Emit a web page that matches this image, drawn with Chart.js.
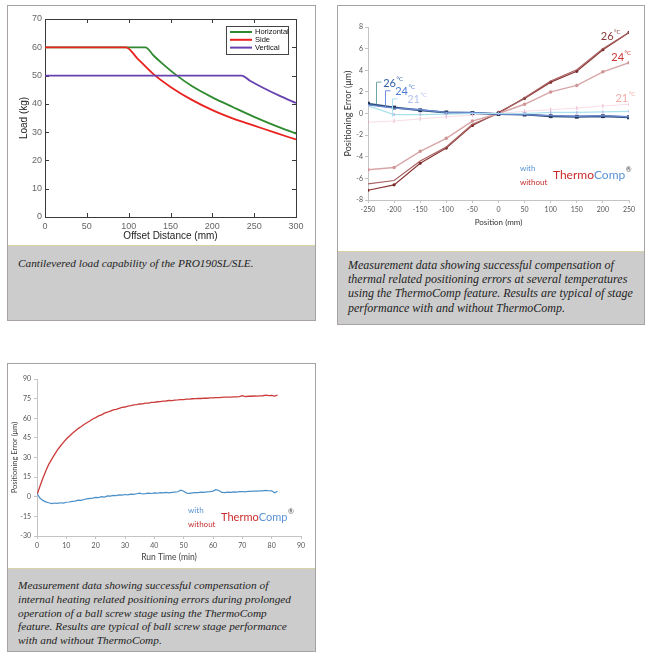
<!DOCTYPE html>
<html>
<head>
<meta charset="utf-8">
<script src="https://cdn.jsdelivr.net/npm/chart.js@4.4.1/dist/chart.umd.min.js"></script>
<style>
  body { margin: 0; background: #fff; width: 650px; height: 665px; position: relative; overflow: hidden; }
  .panel { position: absolute; border: 1px solid #a8a2a2; background: #fff; box-sizing: border-box; }
  .panel canvas { position: absolute; left: 0; top: 0; }
  .cap { position: absolute; left: 0; right: 0; bottom: 0; background: #cccccc; border-top: 1px solid #d8d2a4;
         font-family: "Liberation Serif", "DejaVu Serif", serif; font-style: italic; font-size: 12px;
         line-height: 14px; color: #1e1e1e; box-sizing: border-box; padding: 9px 0 0 10px; white-space: nowrap; }
</style>
</head>
<body>

<div class="panel" style="left:7px; top:5px; width:309px; height:316px;">
  <canvas id="loadChart" width="307" height="239"></canvas>
  <div class="cap" style="top:239px; font-size:11.3px; padding-top:10px;">Cantilevered load capability of the PRO190SL/SLE.</div>
</div>

<div class="panel" style="left:337px; top:5px; width:308px; height:320px;">
  <canvas id="positionChart" width="306" height="245"></canvas>
  <div class="cap" style="top:245px; font-size:12px; line-height:14.2px; padding-top:6px;">Measurement data showing successful compensation of<br>thermal related positioning errors at several temperatures<br>using the ThermoComp feature. Results are typical of stage<br>performance with and without ThermoComp.</div>
</div>

<div class="panel" style="left:7px; top:363px; width:309px; height:289px;">
  <canvas id="runTimeChart" width="307" height="204"></canvas>
  <div class="cap" style="top:204px; font-size:11.3px; line-height:13.8px; padding-top:10px;">Measurement data showing successful compensation of<br>internal heating related positioning errors during prolonged<br>operation of a ball screw stage using the ThermoComp<br>feature. Results are typical of ball screw stage performance<br>with and without ThermoComp.</div>
</div>

<script>
// ---------- chart 1 : cantilevered load ----------
const horizOffset = [0, 120, 130, 140, 155, 175, 200, 225, 250, 275, 300];
const horizLoad   = [60, 60, 57, 54.3, 50.6, 46.4, 42.3, 38.8, 35.4, 32.3, 29.5];
const sideOffset  = [0, 97, 110, 130, 150, 175, 200, 225, 250, 275, 300];
const sideLoad    = [60, 60, 56.2, 50.4, 46, 41.5, 37.8, 34.8, 32.3, 29.8, 27.4];
const vertOffset  = [0, 235, 245, 260, 280, 300];
const vertLoad    = [50, 50, 48.2, 45.8, 42.9, 40.3];

// ---------- chart 2 : positioning error vs position ----------
const positions   = [-250, -200, -150, -100, -50, 0, 50, 100, 150, 200, 250];
const without26a  = [-7.1, -6.6, -4.6, -3.2, -1.1, 0.1, 1.4, 2.9, 3.9, 5.9, 7.5];
const without26b  = [-6.5, -6.2, -4.4, -3.1, -1.0, 0.0, 1.45, 3.0, 4.05, 6.0, 7.5];
const without24   = [-5.2, -5.0, -3.5, -2.3, -0.7, 0.0, 0.85, 2.0, 2.6, 3.85, 4.7];
const without21   = [-0.8, -0.7, -0.5, -0.3, -0.15, 0.0, 0.2, 0.35, 0.5, 0.7, 0.85];
const with26      = [0.9, 0.55, 0.3, 0.1, 0.05, -0.05, -0.1, -0.25, -0.3, -0.25, -0.35];
const with24      = [0.8, 0.5, 0.35, 0.1, 0.1, -0.05, -0.1, -0.2, -0.25, -0.2, -0.3];
const with21      = [0.7, -0.1, -0.1, -0.05, 0.0, 0.0, 0.0, 0.1, 0.1, 0.15, 0.2];

// ---------- chart 3 : positioning error vs run time ----------
const runTime = [0, 1, 2, 3, 4, 5, 6, 7, 8, 9, 10, 11, 12, 13, 14, 15, 16, 17, 18, 19, 20,
  21, 22, 23, 24, 25, 26, 27, 28, 29, 30, 31, 32, 33, 34, 35, 36, 37, 38, 39, 40,
  41, 42, 43, 44, 45, 46, 47, 48, 49, 50, 51, 52, 53, 54, 55, 56, 57, 58, 59, 60,
  61, 62, 63, 64, 65, 66, 67, 68, 69, 70, 71, 72, 73, 74, 75, 76, 77, 78, 79, 80, 81, 82];
const errWithout = [1.5, 8.0, 14.2, 19.6, 24.8, 28.6, 32.4, 35.9, 38.8, 41.6, 44.1,
  46.3, 48.4, 50.2, 52.1, 53.5, 55.2, 56.6, 57.9, 59.4, 60.5,
  61.8, 62.6, 63.9, 64.6, 65.5, 66.4, 66.8, 67.6, 68.3, 68.6,
  69.3, 69.6, 70.2, 70.4, 70.9, 71.0, 71.5, 71.6, 72.1, 72.2,
  72.6, 72.7, 73.1, 73.2, 73.6, 73.5, 73.9, 74.0, 74.3, 74.3,
  74.6, 74.6, 74.9, 75.0, 75.1, 75.1, 75.4, 75.3, 75.6, 75.6,
  75.8, 75.8, 76.0, 76.1, 76.2, 76.1, 76.4, 76.3, 76.6, 77.2,
  76.5, 76.8, 76.8, 77.0, 76.9, 77.1, 77.2, 77.7, 77.3, 77.4, 76.9, 77.6];
const errWith = [2.5, -1.0, -2.8, -3.9, -4.6, -5.2, -4.8, -5.1, -4.6, -4.8, -4.2,
  -4.0, -3.5, -3.3, -2.6, -2.8, -2.1, -1.6, -1.3, -1.0, -0.5,
  -0.6, 0.1, -0.2, 0.6, 0.5, 1.1, 0.9, 1.4, 1.2, 1.7,
  1.5, 2.0, 1.8, 2.3, 2.7, 2.1, 2.4, 2.8, 2.5, 2.9,
  2.7, 3.1, 2.9, 3.3, 3.0, 3.4, 3.6, 3.8, 5.0, 4.2,
  2.8, 2.6, 3.0, 3.2, 3.1, 3.5, 3.3, 3.8, 3.9, 4.3,
  5.4, 4.8, 3.3, 3.2, 3.5, 3.4, 3.7, 3.6, 3.9, 4.0,
  3.8, 4.2, 4.1, 4.4, 4.3, 4.6, 4.5, 4.8, 4.6, 4.5, 3.0, 4.2];

const sansA = '"Liberation Sans", Arial, sans-serif';
const sansB = 'Lato, "Open Sans", sans-serif';

function pairs(xs, ys) {
    return xs.map((x, i) => ({ x: x, y: ys[i] }));
}

// text with a small raised "°C" after it
function drawTemp(ctx, num, px, py, color, size) {
    ctx.fillStyle = color;
    ctx.textBaseline = 'middle';
    ctx.textAlign = 'left';
    ctx.font = size + 'px ' + sansB;
    ctx.fillText(num, px, py);
    const w = ctx.measureText(num).width;
    ctx.font = Math.round(size * 0.55) + 'px ' + sansB;
    ctx.fillText('°C', px + w + 0.5, py - size * 0.42);
}

// "with / without ThermoComp®" key
function drawThermoKey(ctx, px, py, big) {
    ctx.textBaseline = 'middle';
    ctx.textAlign = 'left';
    ctx.font = '8px ' + sansB;
    ctx.fillStyle = '#5b93d6';
    ctx.fillText('with', px, py - 7);
    ctx.fillStyle = '#c42e2e';
    ctx.fillText('without', px, py + 7);
    const tx = px + 33;
    ctx.font = big + 'px ' + sansB;
    ctx.fillStyle = '#cc2a2a';
    ctx.fillText('Thermo', tx, py);
    const w1 = ctx.measureText('Thermo').width;
    ctx.fillStyle = '#5b93d6';
    ctx.fillText('Comp', tx + w1, py);
    const w2 = ctx.measureText('Comp').width;
    ctx.font = '7px ' + sansB;
    ctx.fillStyle = '#444';
    ctx.fillText('®', tx + w1 + w2 + 0.5, py - 5);
}

//--------------------
// - LOAD CHART -
//--------------------
const matlabFrame = {
    id: 'matlabFrame',
    beforeDatasetsDraw(chart) {
        const { ctx, chartArea: a, scales: { x, y } } = chart;
        ctx.save();
        ctx.strokeStyle = '#3a3a3a';
        ctx.lineWidth = 1;
        ctx.strokeRect(Math.round(a.left) + 0.5, Math.round(a.top) + 0.5, Math.round(a.width), Math.round(a.height));
        ctx.beginPath();
        x.ticks.forEach(t => {
            const px = Math.round(x.getPixelForValue(t.value)) + 0.5;
            ctx.moveTo(px, a.bottom); ctx.lineTo(px, a.bottom - 4);
            ctx.moveTo(px, a.top); ctx.lineTo(px, a.top + 4);
        });
        y.ticks.forEach(t => {
            const py = Math.round(y.getPixelForValue(t.value)) + 0.5;
            ctx.moveTo(a.left, py); ctx.lineTo(a.left + 4, py);
            ctx.moveTo(a.right, py); ctx.lineTo(a.right - 4, py);
        });
        ctx.stroke();
        ctx.restore();
    },
    afterDatasetsDraw(chart) {
        // boxed legend in the top right corner
        const { ctx, chartArea: a } = chart;
        const bx = a.right - 70, by = a.top + 7, bw = 62, bh = 28;
        ctx.save();
        ctx.fillStyle = '#fff';
        ctx.fillRect(bx, by, bw, bh);
        ctx.strokeStyle = '#444';
        ctx.lineWidth = 1;
        ctx.strokeRect(bx + 0.5, by + 0.5, bw, bh);
        ctx.font = '7.5px ' + sansA;
        ctx.textBaseline = 'middle';
        chart.data.datasets.forEach((ds, i) => {
            const ly = by + 6 + i * 7.8;
            ctx.strokeStyle = ds.borderColor;
            ctx.lineWidth = 2;
            ctx.beginPath();
            ctx.moveTo(bx + 4, ly); ctx.lineTo(bx + 26, ly);
            ctx.stroke();
            ctx.fillStyle = '#111';
            ctx.fillText(ds.label, bx + 29, ly);
        });
        ctx.restore();
    }
};

new Chart(document.getElementById('loadChart'), {
    type: 'line',
    data: {
        datasets: [
            { label: 'Horizontal', data: pairs(horizOffset, horizLoad), borderColor: '#2f8a2f', order: 3 },
            { label: 'Side', data: pairs(sideOffset, sideLoad), borderColor: '#e8231f', order: 2 },
            { label: 'Vertical', data: pairs(vertOffset, vertLoad), borderColor: '#6841b0', order: 1 }
        ]
    },
    options: {
        responsive: false,
        animation: false,
        layout: { padding: { top: 13, right: 19, left: 0, bottom: 0 } },
        elements: {
            line: { borderWidth: 1.8, cubicInterpolationMode: 'monotone', fill: false },
            point: { radius: 0 }
        },
        plugins: { legend: { display: false }, tooltip: { enabled: false } },
        scales: {
            x: {
                type: 'linear', min: 0, max: 300,
                afterFit: s => { s.height = 28; },
                grid: { display: false, drawTicks: false },
                border: { display: false },
                ticks: { stepSize: 50, padding: 4, maxRotation: 0, color: '#666', font: { family: sansA, size: 9 } },
                title: { display: true, text: 'Offset Distance (mm)', color: '#222', padding: { top: 0, bottom: 3 }, font: { family: sansA, size: 10 } }
            },
            y: {
                min: 0, max: 70,
                afterFit: s => { s.width = 37; },
                grid: { display: false, drawTicks: false },
                border: { display: false },
                ticks: { stepSize: 10, padding: 3, color: '#666', font: { family: sansA, size: 9 } },
                title: { display: true, text: 'Load (kg)', color: '#222', padding: { top: 10, bottom: 0 }, font: { family: sansA, size: 10 } }
            }
        }
    },
    plugins: [matlabFrame]
});

//--------------------
// - POSITION CHART -
//--------------------
const positionNotes = {
    id: 'positionNotes',
    afterDatasetsDraw(chart, args, opts) {
        const { ctx, scales: { x, y } } = chart;
        ctx.save();
        opts.brackets.forEach(b => {
            const px = Math.round(x.getPixelForValue(b.x)) + 0.5;
            const top = y.getPixelForValue(b.top);
            ctx.strokeStyle = b.color;
            ctx.lineWidth = 1;
            ctx.beginPath();
            ctx.moveTo(px + 5, top); ctx.lineTo(px, top); ctx.lineTo(px, y.getPixelForValue(b.bottom));
            ctx.stroke();
        });
        opts.temps.forEach(t => drawTemp(ctx, t.text, x.getPixelForValue(t.x), y.getPixelForValue(t.y), t.color, 11));
        drawThermoKey(ctx, x.getPixelForValue(opts.key.x), y.getPixelForValue(opts.key.y), 12);
        ctx.restore();
    }
};

const thinAxis = {
    grid: { display: true, drawOnChartArea: false, drawTicks: true, tickLength: 3, color: '#c4c4c4' },
    border: { display: true, color: '#c4c4c4' }
};

new Chart(document.getElementById('positionChart'), {
    type: 'line',
    data: {
        datasets: [
            { label: '21°C with', data: pairs(positions, with21), borderColor: '#a9e2ee', borderWidth: 1.2, pointRadius: 1.5, pointStyle: 'line', rotation: 90, pointBorderColor: '#b9b0e6' },
            { label: '24°C with', data: pairs(positions, with24), borderColor: '#6a88cf', borderWidth: 1.4, pointRadius: 0 },
            { label: '26°C with', data: pairs(positions, with26), borderColor: '#2c4d7c', borderWidth: 2, pointRadius: 1.3, pointStyle: 'rect', pointBackgroundColor: '#1f3556', pointBorderColor: '#1f3556' },
            { label: '21°C without', data: pairs(positions, without21), borderColor: 'rgba(240,180,200,0.45)', borderWidth: 1, pointRadius: 2, pointStyle: 'line', rotation: 90, pointBorderColor: 'rgba(225,170,195,0.8)' },
            { label: '24°C without', data: pairs(positions, without24), borderColor: '#d8a6a8', borderWidth: 1.5, pointRadius: 1, pointBackgroundColor: '#cf9496', pointBorderColor: '#cf9496' },
            { label: '26°C without', data: pairs(positions, without26b), borderColor: '#a86262', borderWidth: 1.2, pointRadius: 0 },
            { label: '26°C without', data: pairs(positions, without26a), borderColor: '#8a3434', borderWidth: 1.2, pointRadius: 1, pointBackgroundColor: '#7a2a2a', pointBorderColor: '#7a2a2a' }
        ]
    },
    options: {
        responsive: false,
        animation: false,
        layout: { padding: { top: 21, right: 15, left: 0, bottom: 0 } },
        plugins: {
            legend: { display: false },
            tooltip: { enabled: false },
            positionNotes: {
                brackets: [
                    { x: -235, top: 2.9, bottom: 0.85, color: '#6fa6a8' },
                    { x: -217, top: 2.1, bottom: 0.6, color: '#6f8ee0' },
                    { x: -204, top: 1.35, bottom: -0.3, color: '#a8e4f0' }
                ],
                temps: [
                    { text: '26', x: -221, y: 2.8, color: '#3160a4' },
                    { text: '24', x: -198, y: 2.05, color: '#4b7bd2' },
                    { text: '21', x: -175, y: 1.3, color: '#b4c2f2' },
                    { text: '26', x: 196, y: 7.15, color: '#8a3a3a' },
                    { text: '24', x: 216, y: 5.2, color: '#d23535' },
                    { text: '21', x: 224, y: 1.4, color: '#f2aaa8' }
                ],
                key: { x: 41, y: -5.7 }
            }
        },
        scales: {
            x: {
                type: 'linear', min: -250, max: 250,
                afterFit: s => { s.height = 51; },
                ...thinAxis,
                ticks: { stepSize: 50, padding: 2.5, maxRotation: 0, color: '#555', font: { family: sansB, size: 7 } },
                title: { display: true, text: 'Position (mm)', color: '#333', padding: { top: 0, bottom: 24 }, font: { family: sansB, size: 8 } }
            },
            y: {
                min: -8, max: 8,
                afterFit: s => { s.width = 30; },
                ...thinAxis,
                ticks: { stepSize: 2, padding: 2, color: '#555', font: { family: sansB, size: 7 } },
                title: { display: true, text: 'Positioning Error (μm)', color: '#333', padding: { top: 5, bottom: 0 }, font: { family: sansB, size: 9 } }
            }
        }
    },
    plugins: [positionNotes]
});

//--------------------
// - RUN TIME CHART -
//--------------------
const runTimeNotes = {
    id: 'runTimeNotes',
    afterDatasetsDraw(chart, args, opts) {
        const { ctx, scales: { x, y } } = chart;
        ctx.save();
        drawThermoKey(ctx, x.getPixelForValue(opts.key.x), y.getPixelForValue(opts.key.y), 11);
        ctx.restore();
    }
};

new Chart(document.getElementById('runTimeChart'), {
    type: 'line',
    data: {
        datasets: [
            { label: 'with', data: pairs(runTime, errWith), borderColor: '#4a8fc8', borderWidth: 1.2, pointRadius: 0 },
            { label: 'without', data: pairs(runTime, errWithout), borderColor: '#cc3a3a', borderWidth: 1.3, pointRadius: 0 }
        ]
    },
    options: {
        responsive: false,
        animation: false,
        layout: { padding: { top: 15, right: 14, left: 0, bottom: 0 } },
        plugins: {
            legend: { display: false },
            tooltip: { enabled: false },
            runTimeNotes: { key: { x: 51.5, y: -15.5 } }
        },
        scales: {
            x: {
                type: 'linear', min: 0, max: 90,
                afterFit: s => { s.height = 32; },
                ...thinAxis,
                ticks: { stepSize: 10, padding: 2.5, maxRotation: 0, color: '#555', font: { family: sansB, size: 7 } },
                title: { display: true, text: 'Run Time (min)', color: '#444', padding: { top: 0, bottom: 6 }, font: { family: sansB, size: 8.5 } }
            },
            y: {
                min: -30, max: 90,
                afterFit: s => { s.width = 29; },
                ...thinAxis,
                ticks: { stepSize: 15, padding: 3, color: '#555', font: { family: sansB, size: 7 } },
                title: { display: true, text: 'Positioning Error (μm)', color: '#444', padding: { top: 2, bottom: 0 }, font: { family: sansB, size: 7.5 } }
            }
        }
    },
    plugins: [runTimeNotes]
});
</script>
</body>
</html>
